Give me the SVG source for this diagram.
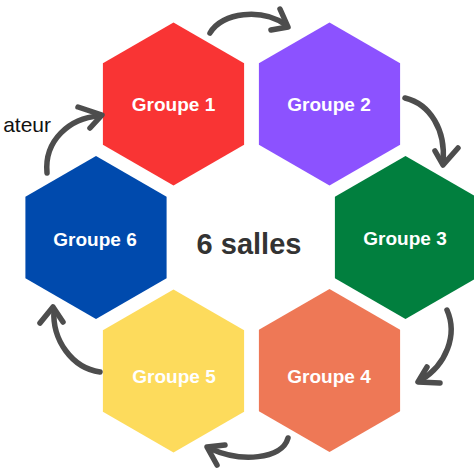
<svg xmlns="http://www.w3.org/2000/svg" xmlns:xlink="http://www.w3.org/1999/xlink" width="474" height="470" viewBox="0 0 474 470">
<style>
.lbl{font-family:"Liberation Sans",Arial,sans-serif;font-weight:bold;font-size:19px;fill:#ffffff;text-anchor:middle}
.title{font-family:"Liberation Sans",Arial,sans-serif;font-weight:bold;font-size:29px;fill:#333333;text-anchor:middle}
.side{font-family:"Liberation Sans",Arial,sans-serif;font-size:21px;fill:#111111;text-anchor:end}
.arr{fill:none;stroke:#4d4d4d;stroke-width:5.5;stroke-linecap:round;stroke-linejoin:round}
</style>
<defs>
<polygon id="hex" points="0,-81.5 70.6,-40.75 70.6,40.75 0,81.5 -70.6,40.75 -70.6,-40.75"/>
</defs>
<rect width="474" height="470" fill="#ffffff"/>
<g id="g1"><use xlink:href="#hex" x="173.5" y="104" fill="#F93434"/><text class="lbl" x="173.5" y="111">Groupe 1</text></g>
<g id="g2"><use xlink:href="#hex" x="329.5" y="104" fill="#8C52FF"/><text class="lbl" x="329" y="111">Groupe 2</text></g>
<g id="g3"><use xlink:href="#hex" x="405.5" y="237.5" fill="#017F3E"/><text class="lbl" x="405" y="245">Groupe 3</text></g>
<g id="g4"><use xlink:href="#hex" x="329.5" y="370.5" fill="#EE7856"/><text class="lbl" x="329" y="383">Groupe 4</text></g>
<g id="g5"><use xlink:href="#hex" x="173.5" y="371" fill="#FDDB5C"/><text class="lbl" x="174" y="383">Groupe 5</text></g>
<g id="g6"><use xlink:href="#hex" x="96" y="237.5" fill="#004AAD"/><text class="lbl" x="95" y="246">Groupe 6</text></g>
<g id="center"><text class="title" x="249" y="254">6 salles</text></g>
<g id="side"><text class="side" x="51" y="132">ateur</text></g>
<g id="connectors">
<path class="arr" d="M210,33 C222,12 262,8 286,25"/>
<path class="arr" d="M280,9 L288,27 L271,30"/>
<path class="arr" d="M405,98 C430,104 446,130 443,162"/>
<path class="arr" d="M435,151 L443,165 L458,148"/>
<path class="arr" d="M447,310 C458,335 446,365 421,380"/>
<path class="arr" d="M427,367 L418,382 L440,383"/>
<path class="arr" d="M288,438 C282,460 240,462 211,449"/>
<path class="arr" d="M225,445 L207,447 L217,465"/>
<path class="arr" d="M100,372 C72,368 52,340 54,310"/>
<path class="arr" d="M40,323 L53,307 L63,322"/>
<path class="arr" d="M47,173 C44,140 70,118 99,116"/>
<path class="arr" d="M78,107 L102,115 L90,128"/>
</g>
</svg>
